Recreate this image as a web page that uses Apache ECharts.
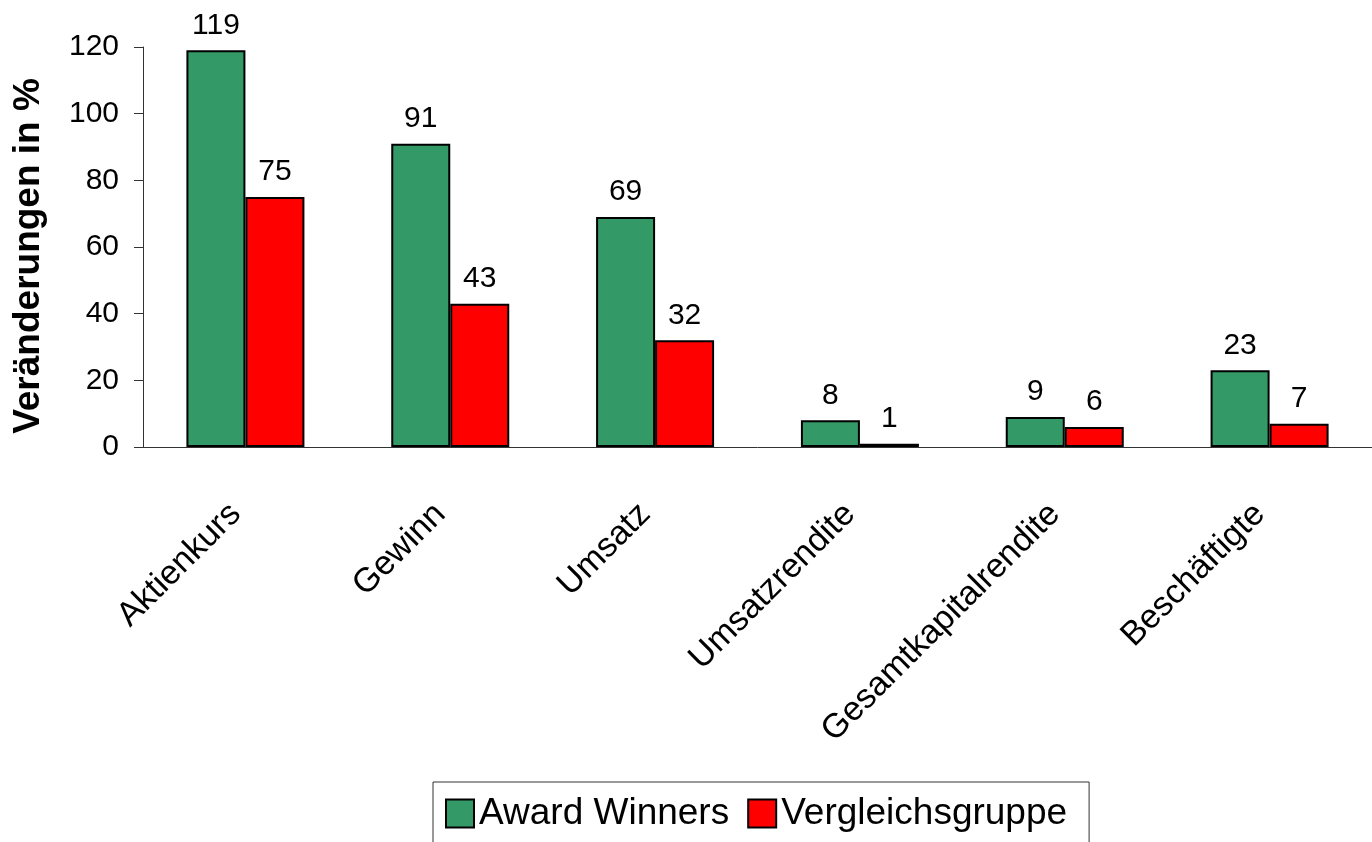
<!DOCTYPE html>
<html>
<head>
<meta charset="utf-8">
<script src="https://cdn.jsdelivr.net/npm/echarts@6/dist/echarts.min.js"></script>
<style>
html,body{margin:0;padding:0;background:#fff;}
#chart{width:1372px;height:842px;}
</style>
</head>
<body>
<div id="chart"></div>
<script>
const categories = ['Aktienkurs', 'Gewinn', 'Umsatz', 'Umsatzrendite', 'Gesamtkapitalrendite', 'Beschäftigte'];
const awardWinners = [119, 91, 69, 8, 9, 23];
const vergleichsgruppe = [75, 43, 32, 1, 6, 7];
const seriesNames = ['Award Winners', 'Vergleichsgruppe'];
const yTicks = { min: 0, max: 120, interval: 20 };

const FONT = '"Liberation Sans", Arial, sans-serif';
const chart = echarts.init(document.getElementById('chart'), null, { renderer: 'canvas' });

const labelCfg = {
  show: true,
  position: 'top',
  distance: 10,
  color: '#000',
  fontSize: 30,
  fontFamily: FONT
};

chart.setOption({
  animation: false,
  backgroundColor: '#fff',
  textStyle: { fontFamily: FONT },
  grid: { left: 143, top: 47, width: 1239, bottom: 395, containLabel: false },
  legend: {
    left: 433,
    top: 782,
    padding: [13, 22, 40, 12],
    borderColor: '#333',
    borderWidth: 1,
    itemWidth: 28,
    itemHeight: 28,
    itemGap: 18,
    textStyle: { fontSize: 37, color: '#000', fontFamily: FONT },
    data: seriesNames.map(n => ({ name: n, icon: 'rect' }))
  },
  xAxis: {
    type: 'category',
    data: categories,
    axisLine: { lineStyle: { color: '#333', width: 1 } },
    axisTick: { length: 11, lineStyle: { color: '#333' } },
    axisLabel: {
      rotate: 45,
      margin: 52,
      interval: 0,
      fontSize: 34,
      padding: [0, 14, 0, 0],
      color: '#000',
      fontFamily: FONT
    }
  },
  yAxis: {
    type: 'value',
    min: yTicks.min,
    max: yTicks.max,
    interval: yTicks.interval,
    name: 'Veränderungen in %',
    nameLocation: 'middle',
    nameGap: 96,
    nameTextStyle: { fontSize: 37, fontWeight: 'bold', color: '#000', fontFamily: FONT, padding: [0, 18, 0, 0] },
    axisLine: { show: true, lineStyle: { color: '#333', width: 1 } },
    axisTick: { show: true, length: 9, lineStyle: { color: '#333' } },
    splitLine: { show: false },
    axisLabel: { fontSize: 30, color: '#000', margin: 24, fontFamily: FONT }
  },
  series: [
    {
      name: seriesNames[0],
      type: 'bar',
      data: awardWinners,
      barWidth: 59,
      barGap: '0%',
      itemStyle: { color: '#339966', borderColor: '#000', borderWidth: 2 },
      label: labelCfg
    },
    {
      name: seriesNames[1],
      type: 'bar',
      data: vergleichsgruppe,
      barWidth: 59,
      barGap: '0%',
      itemStyle: { color: '#FF0000', borderColor: '#000', borderWidth: 2 },
      label: labelCfg
    }
  ]
});
</script>
</body>
</html>
